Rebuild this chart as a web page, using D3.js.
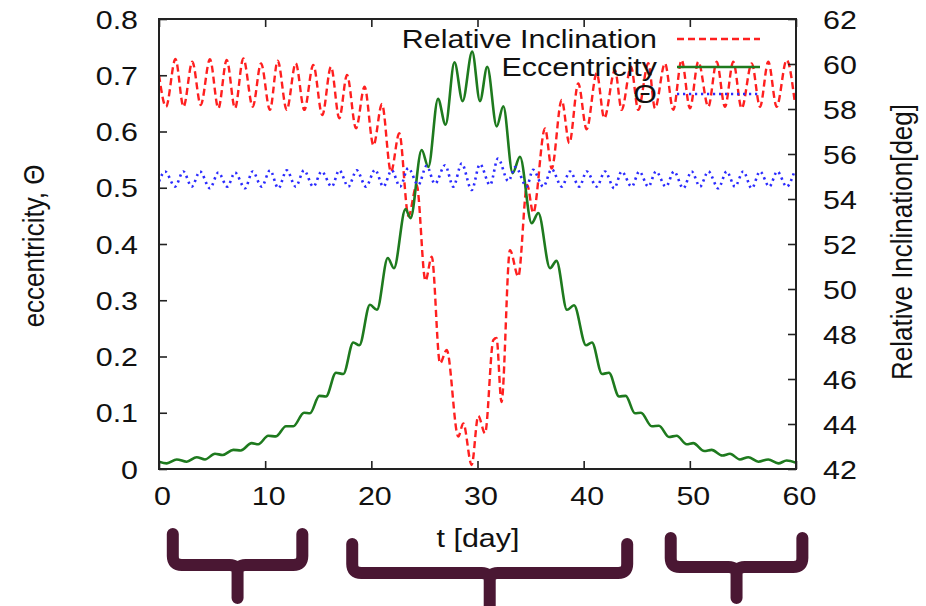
<!DOCTYPE html>
<html><head><meta charset="utf-8">
<script src="https://cdn.jsdelivr.net/npm/d3@7"></script>
<style>body{margin:0;background:#fff}svg{display:block}</style>
</head><body><svg id="c" width="926" height="606"></svg>
<script>
// ---------- data ----------
const tTicks = [0, 10, 20, 30, 40, 50, 60];
const eTicks = [0, 0.1, 0.2, 0.3, 0.4, 0.5, 0.6, 0.7, 0.8];
const eTickLabels = ["0", "0.1", "0.2", "0.3", "0.4", "0.5", "0.6", "0.7", "0.8"];
const incTicks = [42, 44, 46, 48, 50, 52, 54, 56, 58, 60, 62];
const seriesNames = ["Relative Inclination", "Eccentricity", "\u0398"];

// Relative inclination [deg] (right axis)
const incT = [0,0.66,1.55,2.31,3.14,3.93,4.80,5.59,6.38,7.16,7.94,8.83,9.61,10.45,11.18,12.03,12.88,13.69,14.53,15.38,16.20,16.98,17.71,18.56,19.36,20.20,21.00,21.85,22.63,23.50,24.27,25.10,25.69,26.47,27.10,28.19,28.66,29.45,30.07,30.71,31.49,31.79,32.26,33.06,33.84,34.68,35.25,36.36,36.99,37.93,38.65,39.49,40.28,41.23,41.94,42.95,43.58,44.46,45.14,46.09,46.72,47.66,48.44,49.23,50.01,50.80,51.74,52.53,53.31,54.09,54.88,55.83,56.61,57.39,58.18,59.12,59.90];
const incV = [59.51,58.10,60.22,58.10,60.10,58.18,60.21,58.03,60.18,58.03,60.25,58.10,60.03,57.96,60.15,57.96,60.03,57.96,59.96,57.73,59.88,57.59,59.51,57.14,58.99,56.38,58.22,55.20,56.92,53.24,54.62,50.36,51.44,46.70,47.29,43.44,44.03,42.18,44.36,43.59,47.73,47.82,44.98,51.73,50.55,54.62,53.38,57.14,55.36,58.40,56.48,59.14,57.10,59.59,57.59,59.73,57.96,59.88,57.96,60.03,58.03,60.03,57.96,60.18,58.03,60.10,58.10,60.10,58.10,60.10,58.03,60.03,58.10,60.10,58.10,60.18,58.25];

// Eccentricity (left axis)
const eccT = [0,0.73,1.67,2.61,3.55,4.33,5.27,6.00,7.00,7.70,8.73,9.35,10.29,11.02,11.96,12.65,13.66,14.22,15.10,15.73,16.67,17.36,18.30,18.87,19.87,20.53,21.55,22.13,23.22,23.69,24.74,25.37,26.28,26.99,27.83,28.60,29.50,30.23,30.92,31.81,32.43,33.31,34.00,35.10,35.73,36.83,37.44,38.43,39.09,40.22,40.78,41.73,42.38,43.33,43.96,44.83,45.40,46.41,47.09,48.04,48.76,49.70,50.32,51.36,52.06,53.06,53.78,54.72,55.51,56.45,57.39,58.33,59.12,60.00];
const eccV = [0.013,0.010,0.017,0.013,0.021,0.017,0.027,0.025,0.034,0.033,0.046,0.044,0.059,0.058,0.076,0.076,0.100,0.099,0.130,0.129,0.171,0.169,0.225,0.220,0.292,0.283,0.375,0.357,0.462,0.446,0.567,0.537,0.658,0.612,0.723,0.654,0.742,0.654,0.715,0.609,0.645,0.526,0.555,0.437,0.455,0.357,0.370,0.283,0.291,0.220,0.225,0.169,0.171,0.129,0.130,0.099,0.100,0.076,0.077,0.057,0.059,0.044,0.046,0.032,0.034,0.024,0.027,0.017,0.021,0.013,0.017,0.010,0.015,0.011];

// Theta (left axis)
const thT = [0,0.57,1.51,2.29,3.08,3.86,4.80,5.59,6.43,7.16,8.10,8.82,9.67,10.46,11.24,12.03,12.88,13.66,14.53,15.32,16.27,16.98,17.83,18.62,19.50,20.35,21.13,21.92,22.70,23.48,24.42,25.21,25.99,26.95,27.72,28.51,29.45,30.23,31.18,31.93,32.90,33.58,34.63,35.23,36.20,36.99,37.93,38.71,39.59,40.28,41.23,42.01,42.88,43.58,44.52,45.24,46.09,46.81,47.75,48.51,49.38,50.17,50.95,51.74,52.68,53.47,54.25,55.03,55.83,56.61,57.48,58.24,59.12,59.88];
const thV = [0.511,0.529,0.502,0.529,0.502,0.529,0.499,0.527,0.502,0.527,0.499,0.529,0.502,0.531,0.499,0.531,0.502,0.531,0.502,0.529,0.502,0.531,0.502,0.531,0.502,0.532,0.502,0.531,0.502,0.535,0.505,0.539,0.507,0.540,0.502,0.543,0.496,0.542,0.505,0.552,0.512,0.537,0.502,0.532,0.502,0.533,0.502,0.529,0.502,0.529,0.502,0.529,0.499,0.529,0.502,0.529,0.502,0.529,0.502,0.529,0.499,0.529,0.502,0.529,0.499,0.529,0.502,0.529,0.499,0.529,0.502,0.529,0.502,0.531];

// brace annotations under the axis, in days
const braceRanges = [[1.3, 13.5], [18.2, 44.1], [48.2, 60.6]];

// ---------- layout ----------
const FONT = "'Liberation Sans', Arial, Helvetica, sans-serif";
const FS = 26, SX = 1.17;
const L = 159, R = 796, T = 19, B = 469;
const svg = d3.select("#c");
const x = d3.scaleLinear().domain([0, 60]).range([L, R]);
const yL = d3.scaleLinear().domain([0, 0.8]).range([B, T]);
const yR = d3.scaleLinear().domain([42, 62]).range([B, T]);

svg.append("defs").append("clipPath").attr("id", "clip")
  .append("rect").attr("x", L).attr("y", T).attr("width", R - L).attr("height", B - T);

function path(ts, vs, ys) {
  return d3.line().x((d, i) => x(ts[i])).y((d, i) => ys(vs[i])).curve(d3.curveMonotoneX)(ts);
}
const plot = svg.append("g").attr("clip-path", "url(#clip)");
const styles = [
  {color: "#ff1f1f", dash: "7,4", w: 2.4},
  {color: "#1e7a1e", dash: null, w: 2.6},
  {color: "#2b2bff", dash: "2.2,3.8", w: 2.6}
];
plot.append("path").attr("d", path(incT, incV, yR)).attr("fill", "none")
  .attr("stroke", styles[0].color).attr("stroke-width", styles[0].w).attr("stroke-dasharray", styles[0].dash);
plot.append("path").attr("d", path(eccT, eccV, yL)).attr("fill", "none")
  .attr("stroke", styles[1].color).attr("stroke-width", styles[1].w);
plot.append("path").attr("d", path(thT, thV, yL)).attr("fill", "none")
  .attr("stroke", styles[2].color).attr("stroke-width", styles[2].w).attr("stroke-dasharray", styles[2].dash);

// ---------- axes ----------
function styleAxis(g) {
  g.select(".domain").remove();
  g.attr("font-family", FONT).attr("font-size", FS).attr("color", "#222");
  g.selectAll(".tick line").attr("stroke-width", 1.6);
  g.selectAll("text").attr("fill", "#111");
}
const gL = svg.append("g").attr("transform", `translate(${L},0)`)
  .call(d3.axisLeft(yL).tickValues(eTicks).tickSize(-8).tickFormat((d, i) => eTickLabels[i]));
styleAxis(gL);
gL.selectAll("text").attr("x", null).attr("dy", null).attr("transform", `translate(-21,9) scale(${SX},1)`);

const gR = svg.append("g").attr("transform", `translate(${R},0)`)
  .call(d3.axisRight(yR).tickValues(incTicks).tickSize(-8).tickFormat(d3.format("d")));
styleAxis(gR);
gR.selectAll("text").attr("x", null).attr("dy", null).attr("transform", `translate(27,9) scale(${SX},1)`);

const gB = svg.append("g").attr("transform", `translate(0,${B})`)
  .call(d3.axisBottom(x).tickValues(tTicks).tickSize(-8).tickFormat(d3.format("d")));
styleAxis(gB);
gB.selectAll("text").attr("y", null).attr("dy", null).attr("transform", `translate(3,36) scale(${SX},1)`);

const gT = svg.append("g").attr("transform", `translate(0,${T})`)
  .call(d3.axisTop(x).tickValues(tTicks).tickSize(-8).tickFormat(() => ""));
styleAxis(gT);

svg.append("rect").attr("x", L).attr("y", T).attr("width", R - L).attr("height", B - T)
  .attr("fill", "none").attr("stroke", "#222").attr("stroke-width", 2);

// ---------- legend ----------
const legRows = [39, 67, 94];
seriesNames.forEach((name, i) => {
  svg.append("text").text(name).attr("font-family", FONT).attr("font-size", FS)
    .attr("text-anchor", "end").attr("fill", "#111")
    .attr("transform", `translate(657,${legRows[i] + 9}) scale(${SX},1)`);
  svg.append("line").attr("x1", 677).attr("x2", 760).attr("y1", legRows[i]).attr("y2", legRows[i])
    .attr("stroke", styles[i].color).attr("stroke-width", styles[i].w)
    .attr("stroke-dasharray", styles[i].dash);
});

// ---------- axis titles ----------
svg.append("text").text("eccentricity, \u0398").attr("font-family", FONT).attr("font-size", FS)
  .attr("text-anchor", "middle").attr("fill", "#111")
  .attr("transform", `translate(44,246) rotate(-90) scale(1,${SX})`);
svg.append("text").text("Relative Inclination[deg]").attr("font-family", FONT).attr("font-size", FS)
  .attr("text-anchor", "middle").attr("fill", "#111")
  .attr("transform", `translate(912,242) rotate(-90) scale(1,${SX})`);
svg.append("text").text("t [day]").attr("font-family", FONT).attr("font-size", FS)
  .attr("text-anchor", "middle").attr("fill", "#111")
  .attr("transform", `translate(478,547) scale(${SX},1)`);

// ---------- braces ----------
const braceTop = [534, 544, 538], braceBar = [565, 573, 567], braceBottom = [598, 612, 598];
braceRanges.forEach((r, i) => {
  const a = x(r[0]), b = x(r[1]), c = (a + b) / 2, t = braceTop[i], m = braceBar[i], bt = braceBottom[i];
  const rr = 9, cr = 8;
  const d = `M${a},${t} L${a},${m - rr} Q${a},${m} ${a + rr},${m} L${c - cr},${m} Q${c},${m} ${c},${m + cr} L${c},${bt}` +
            ` M${c},${m + cr} Q${c},${m} ${c + cr},${m} L${b - rr},${m} Q${b},${m} ${b},${m - rr} L${b},${t}`;
  svg.append("path").attr("d", d).attr("fill", "none").attr("stroke", "#4a1733")
    .attr("stroke-width", 12).attr("stroke-linecap", "round").attr("stroke-linejoin", "round");
});
</script>
</body></html>
